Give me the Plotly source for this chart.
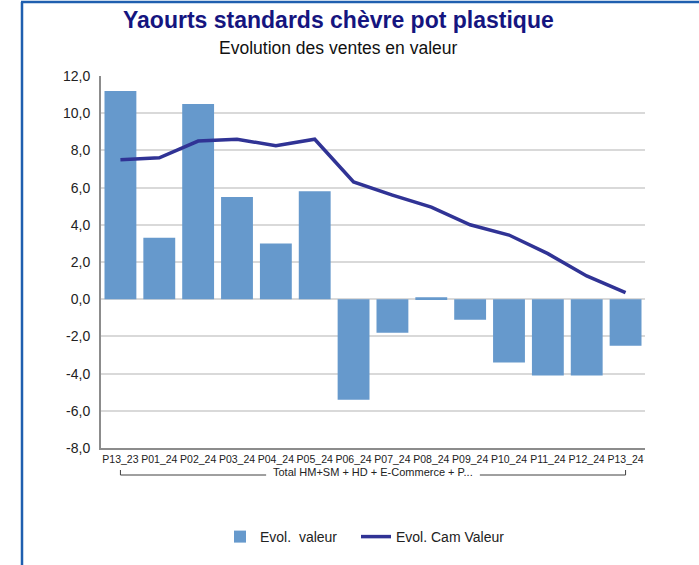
import plotly.graph_objects as go

# Periods and sales evolution figures (%)
periods = ["P13_23", "P01_24", "P02_24", "P03_24", "P04_24", "P05_24", "P06_24",
           "P07_24", "P08_24", "P09_24", "P10_24", "P11_24", "P12_24", "P13_24"]
evol_valeur = [11.2, 3.3, 10.5, 5.5, 3.0, 5.8, -5.4, -1.8, 0.1, -1.1, -3.4, -4.1, -4.1, -2.5]
evol_cam_valeur = [7.5, 7.6, 8.5, 8.6, 8.25, 8.6, 6.3, 5.6, 4.95, 4.0, 3.45, 2.45, 1.25, 0.35]

y_ticks = [-8, -6, -4, -2, 0, 2, 4, 6, 8, 10, 12]
y_tick_text = ["-8,0", "-6,0", "-4,0", "-2,0", "0,0", "2,0", "4,0", "6,0", "8,0", "10,0", "12,0"]

group_label = "Total HM+SM + HD + E-Commerce + P..."
title_text = "Yaourts standards chèvre pot plastique"
subtitle_text = "Evolution des ventes en valeur"

W, H = 699, 565
ML, MR, MT, MB = 101, 54, 76, 117
PW, PH = W - ML - MR, H - MT - MB


def px(x):
    return (x - ML) / PW


def py(y):
    return (H - MB - y) / PH


BAR_COLOR = "#6699CC"
LINE_COLOR = "#303395"
FONT = "Liberation Sans"

fig = go.Figure()
fig.add_trace(go.Bar(
    x=list(range(len(periods))), y=evol_valeur, name="Evol.\u00a0 valeur",
    marker=dict(color=BAR_COLOR, line=dict(width=0)), legend="legend",
))
fig.add_trace(go.Scatter(
    x=list(range(len(periods))), y=evol_cam_valeur, name="Evol. Cam Valeur",
    mode="lines", line=dict(color=LINE_COLOR, width=3.5), legend="legend2",
))

shapes = []
# frame border (left and top edges)
shapes.append(dict(type="line", xref="paper", yref="paper",
                   x0=px(22), x1=px(22), y0=py(2), y1=py(H + 5),
                   line=dict(color="#1F5FAF", width=2.5)))
shapes.append(dict(type="line", xref="paper", yref="paper",
                   x0=px(21), x1=px(W + 5), y0=py(2), y1=py(2),
                   line=dict(color="#1F5FAF", width=2.5)))

# group bracket under the period labels
first, last = 0, len(periods) - 1
mid = (first + last) / 2
half_gap = 2.75
br_y, br_top = py(475), py(470)
bracket_color = "#404040"
for seg in [(first, mid - half_gap), (mid + half_gap, last)]:
    shapes.append(dict(type="line", xref="x", yref="paper", x0=seg[0], x1=seg[1],
                       y0=br_y, y1=br_y, line=dict(color=bracket_color, width=1)))
for xe in (first, last):
    shapes.append(dict(type="line", xref="x", yref="paper", x0=xe, x1=xe,
                       y0=br_y, y1=br_top, line=dict(color=bracket_color, width=1)))

annotations = [
    dict(text=f"<b>{title_text}</b>", xref="paper", yref="paper", x=px(338), y=py(20),
         xanchor="center", yanchor="middle", showarrow=False,
         font=dict(family=FONT, size=23, color="#15157F")),
    dict(text=subtitle_text, xref="paper", yref="paper", x=px(338), y=py(48),
         xanchor="center", yanchor="middle", showarrow=False,
         font=dict(family=FONT, size=17.5, color="#111111")),
    dict(text=group_label, xref="x", yref="paper", x=mid, y=py(472),
         xanchor="center", yanchor="middle", showarrow=False,
         font=dict(family=FONT, size=11, color="#222222")),
]

legend_style = dict(orientation="h", xanchor="left", y=py(537), yanchor="middle",
                    font=dict(family=FONT, size=14, color="#222222"),
                    itemwidth=30, tracegroupgap=0, bgcolor="rgba(0,0,0,0)")

fig.update_layout(
    width=W, height=H,
    margin=dict(l=ML, r=MR, t=MT, b=MB, pad=0),
    paper_bgcolor="white", plot_bgcolor="white",
    font=dict(family=FONT, color="#222222"),
    bargap=0.18,
    showlegend=True,
    legend=dict(x=px(220), **legend_style),
    legend2=dict(x=px(356), **legend_style),
    shapes=shapes,
    annotations=annotations,
)
fig.update_xaxes(
    type="linear", range=[-0.5, len(periods) - 0.5],
    tickmode="array", tickvals=list(range(len(periods))), ticktext=periods,
    tickangle=0,
    tickfont=dict(family=FONT, size=10.5, color="#222222"),
    showgrid=False, zeroline=False, ticks="",
    showline=True, linecolor="#8C8C8C", linewidth=2,
)
fig.update_yaxes(
    range=[-8, 12], tickmode="array", tickvals=y_ticks, ticktext=y_tick_text,
    tickfont=dict(family=FONT, size=14, color="#222222"),
    showgrid=True, gridcolor="#D9D9D9", gridwidth=1.5,
    zeroline=True, zerolinecolor="#D9D9D9", zerolinewidth=1.5,
    showline=True, linecolor="#8C8C8C", linewidth=2, ticks="", ticklabelstandoff=6,
)

fig.write_html("out.html")
